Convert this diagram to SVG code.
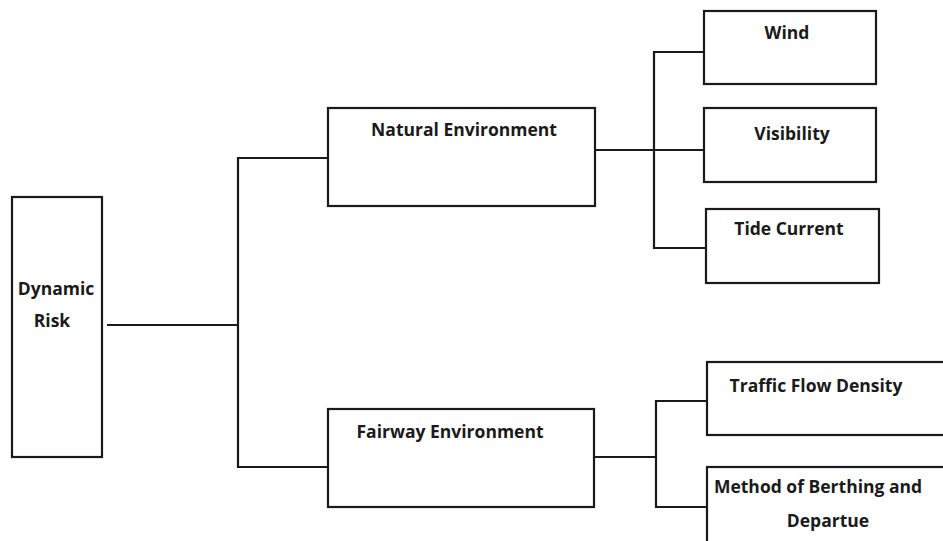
<svg xmlns="http://www.w3.org/2000/svg" width="943" height="541" viewBox="0 0 943 541">
<style>
.box{fill:#fff;stroke:#1a1a1a;stroke-width:2.2}
.ln{fill:none;stroke:#1a1a1a;stroke-width:2.2}
text{font-family:"Open Sans","Noto Sans","DejaVu Sans",sans-serif;font-weight:bold;font-size:17.5px;fill:#1a1a1a}
.c{text-anchor:middle}
</style>
<rect width="943" height="541" fill="#fff"/>
<g id="connectors">
<path class="ln" d="M107,325 H238"/>
<path class="ln" d="M330,158 H238 V467 H330"/>
<path class="ln" d="M595,150 H654"/>
<path class="ln" d="M704,52 H654 V248 H706"/>
<path class="ln" d="M654,150 H704"/>
<path class="ln" d="M594,457 H656"/>
<path class="ln" d="M707,401 H656 V507 H707"/>
</g>
<g id="dynamic-risk">
<rect class="box" x="12" y="197" width="90" height="260"/>
<text class="c" x="56" y="295">Dynamic</text>
<text class="c" x="52" y="327">Risk</text>
</g>
<g id="natural-environment">
<rect class="box" x="328" y="108" width="267" height="98"/>
<text class="c" x="464" y="136">Natural Environment</text>
</g>
<g id="fairway-environment">
<rect class="box" x="328" y="409" width="266" height="98"/>
<text class="c" x="450" y="438">Fairway Environment</text>
</g>
<g id="wind">
<rect class="box" x="704" y="11" width="172" height="73"/>
<text class="c" x="787" y="39">Wind</text>
</g>
<g id="visibility">
<rect class="box" x="704" y="108" width="172" height="74"/>
<text class="c" x="792" y="140">Visibility</text>
</g>
<g id="tide-current">
<rect class="box" x="706" y="209" width="173" height="74"/>
<text class="c" x="789" y="235">Tide Current</text>
</g>
<g id="traffic-flow-density">
<rect class="box" x="707" y="362" width="245" height="73"/>
<text class="c" x="816" y="392">Traffic Flow Density</text>
</g>
<g id="method-of-berthing">
<rect class="box" x="707" y="467" width="245" height="90"/>
<text class="c" x="818" y="493">Method of Berthing and</text>
<text class="c" x="828" y="527">Departue</text>
</g>
</svg>
